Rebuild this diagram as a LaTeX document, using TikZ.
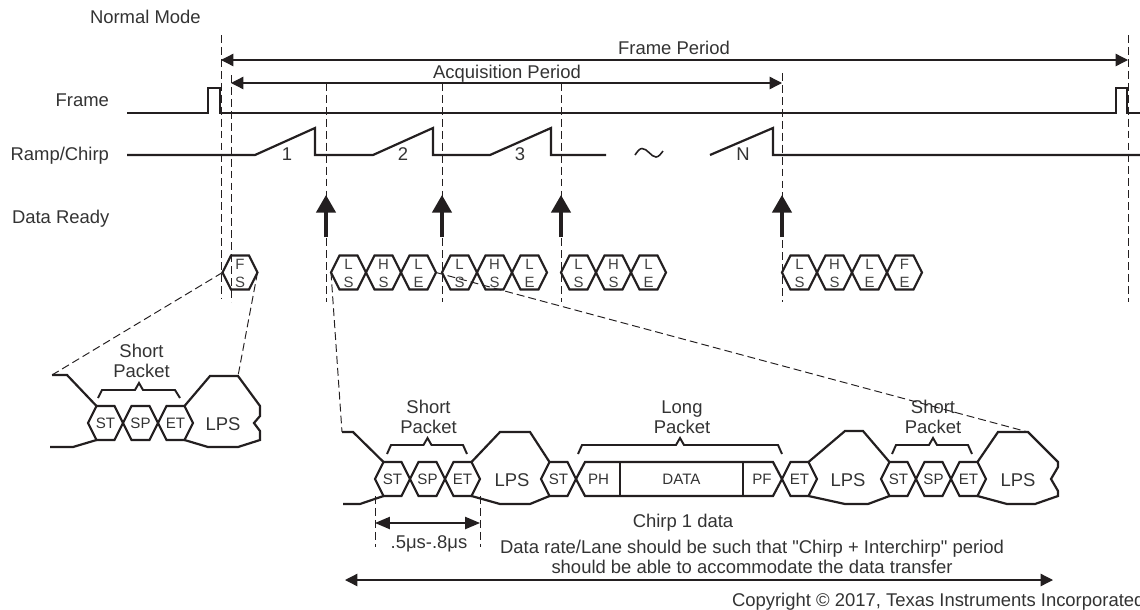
\documentclass[tikz,border=0pt]{standalone}
\usepackage{fontspec}
\setmainfont{Liberation Sans}
\usetikzlibrary{arrows.meta}

\definecolor{tiline}{HTML}{231F20}
\definecolor{titext}{HTML}{333333}

\tikzset{
  every node/.style={text=titext, inner sep=0pt, outer sep=0pt},
  lbl/.style={font=\fontsize{10.5}{11.5}\selectfont, text height=7.5pt, text depth=0pt},
  lbltwo/.style={font=\fontsize{10.5}{11.5}\selectfont, align=center},
  hexletter/.style={font=\fontsize{8.5}{9}\selectfont, text=black!75, text height=6.1pt, text depth=0pt},
  celltext/.style={font=\fontsize{8.6}{9}\selectfont, text height=6.2pt, text depth=0pt},
  sigline/.style={draw=tiline, line width=1.25pt, line join=miter},
  guide/.style={draw=tiline, dash pattern=on 4.5pt off 2.3pt, line width=0.55pt},
  span/.style={draw=tiline, line width=0.75pt,
               {Triangle[length=7pt,width=7pt]}-{Triangle[length=7pt,width=7pt]}},
  ready/.style={draw=tiline, line width=1.8pt, -{Triangle[length=10pt,width=11pt]}},
  bracket/.style={draw=tiline, line width=1.1pt, line join=miter},
  pics/twohex/.style 2 args={code={
      \draw[sigline] (-17.5,0) -- (-9,-17) -- (9,-17) -- (17.5,0)
                     -- (9,17) -- (-9,17) -- cycle;
      \coordinate (-w) at (-17.5,0);
      \coordinate (-e) at (17.5,0);
      \node[hexletter] (-up) at (0,-8) {#1};
      \node[hexletter] (-dn) at (0,9.5) {#2};}},
  pics/onehex/.style={code={
      \draw[sigline] (-17.5,0) -- (-9,-17) -- (9,-17) -- (17.5,0)
                     -- (9,17) -- (-9,17) -- cycle;
      \coordinate (-w) at (-17.5,0);
      \coordinate (-e) at (17.5,0);
      \node[celltext] (-t) at (0,0) {#1};}},
}

\begin{document}
\begin{tikzpicture}[x=0.02cm, y=-0.02cm]
\useasboundingbox (0,0) rectangle (1140,609);

% signal names
\node[lbl, anchor=west] (mode) at (90,17) {Normal Mode};
\node[lbl, anchor=east] (frame) at (109,100) {Frame};
\node[lbl, anchor=east] (ramp) at (109,154) {Ramp/Chirp};
\node[lbl, anchor=west] (ready) at (12,217) {Data Ready};

% dashed markers
\coordinate (fs1t) at (221,35);  \coordinate (fs1b) at (221,298);
\coordinate (fs2t) at (231,75);  \coordinate (fs2b) at (231,302);
\coordinate (c1t) at (326,83);   \coordinate (c1b) at (326,302);
\coordinate (c2t) at (442,83);   \coordinate (c2b) at (442,302);
\coordinate (c3t) at (561,83);   \coordinate (c3b) at (561,302);
\coordinate (cnt) at (782,73);   \coordinate (cnb) at (782,302);
\coordinate (fe1t) at (1128,35); \coordinate (fe1b) at (1128,302);
\draw[guide] (fs1t) -- (fs1b);
\draw[guide] (fs2t) -- (fs2b);
\draw[guide] (c1t) -- (c1b);
\draw[guide] (c2t) -- (c2b);
\draw[guide] (c3t) -- (c3b);
\draw[guide] (cnt) -- (cnb);
\draw[guide] (fe1t) -- (fe1b);

% periods
\coordinate (fpl) at (221,60);  \coordinate (fpr) at (1128,60);
\coordinate (apl) at (231,83);  \coordinate (apr) at (782,83);
\draw[span] (fpl) -- (fpr);
\draw[span] (apl) -- (apr);
\node[lbl] (fper) at (674,48) {Frame Period};
\node[lbl] (aper) at (507,72) {Acquisition Period};

% frame and ramp traces
\draw[sigline] (127,113) -- (208,113) -- (208,88) -- (220,88) -- (220,113)
  -- (1116,113) -- (1116,88) -- (1127,88) -- (1127,113) -- (1140,113);
\draw[sigline] (127,155) -- (255,155) -- (315,128) -- (315,155)
  -- (373,155) -- (433,128) -- (433,155)
  -- (490,155) -- (551,128) -- (551,155) -- (606,155);
\draw[sigline] (710,155) -- (773,128) -- (773,155) -- (1140,155);
\draw[draw=tiline, line width=0.9pt] (635,155) sin (642,148.5) cos (649,152.5)
  sin (656,157) cos (663,151);
\node[lbl] (n1) at (287,154) {1};
\node[lbl] (n2) at (403,154) {2};
\node[lbl] (n3) at (520,154) {3};
\node[lbl] (nn) at (743,154) {N};

% data ready
\coordinate (r1b) at (326,237); \coordinate (r1t) at (326,195);
\coordinate (r2b) at (442,237); \coordinate (r2t) at (442,195);
\coordinate (r3b) at (561,237); \coordinate (r3t) at (561,195);
\coordinate (rnb) at (782,237); \coordinate (rnt) at (782,195);
\draw[ready] (r1b) -- (r1t);
\draw[ready] (r2b) -- (r2t);
\draw[ready] (r3b) -- (r3t);
\draw[ready] (rnb) -- (rnt);

% packet row
\pic (fs) at (240,272.5) {twohex={F}{S}};
\pic (ls1) at (348.5,272.5) {twohex={L}{S}};
\pic (hs1) at (383.5,272.5) {twohex={H}{S}};
\pic (le1) at (418.5,272.5) {twohex={L}{E}};
\pic (ls2) at (459.5,272.5) {twohex={L}{S}};
\pic (hs2) at (494.5,272.5) {twohex={H}{S}};
\pic (le2) at (529.5,272.5) {twohex={L}{E}};
\pic (ls3) at (578.5,272.5) {twohex={L}{S}};
\pic (hs3) at (613.5,272.5) {twohex={H}{S}};
\pic (le3) at (648.5,272.5) {twohex={L}{E}};
\pic (lsn) at (799.5,272.5) {twohex={L}{S}};
\pic (hsn) at (834.5,272.5) {twohex={H}{S}};
\pic (len) at (869.5,272.5) {twohex={L}{E}};
\pic (fe) at (904.5,272.5) {twohex={F}{E}};

% frame start detail
\coordinate (fsin) at (52,375);
\coordinate (fslps) at (238,376);
\draw[sigline] (fsin) -- (67,375) -- (96.5,406);
\draw[sigline] (50,447) -- (73,447) -- (96.5,440);
\pic (fsst) at (105.5,423) {onehex={ST}};
\pic (fssp) at (140.5,423) {onehex={SP}};
\pic (fset) at (175.5,423) {onehex={ET}};
\draw[sigline] (184.5,406) -- (210,376) -- (fslps) -- (260,406) -- (260,416)
  -- (254,423) -- (260,431) -- (260,440) -- (238,447) -- (208,447) -- (184.5,440);
\node[lbl] (fslpst) at (223,424) {LPS};
\node[lbltwo] (fssh) at (141.5,361) {Short\\Packet};
\draw[bracket] (98,398) -- (102,390) -- (135,390) -- (139,383) -- (143,390)
  -- (175,390) -- (180,398);

% chirp 1 detail
\coordinate (chin) at (342,432);
\coordinate (chlps) at (1028,432);
\draw[sigline] (chin) -- (353,432) -- (383.5,462);
\draw[sigline] (343,504) -- (360,504) -- (383.5,496);
\pic (st1) at (392.5,479) {onehex={ST}};
\pic (sp1) at (427.5,479) {onehex={SP}};
\pic (et1) at (462.5,479) {onehex={ET}};
\draw[sigline] (471.5,462) -- (500,432) -- (530,432) -- (549.5,462);
\draw[sigline] (471.5,496) -- (500,504) -- (530,504) -- (549.5,496);
\node[lbl] (lps1) at (512,480) {LPS};
\pic (st2) at (558.5,479) {onehex={ST}};
\draw[sigline] (576,479) -- (585,462) -- (773,462) -- (782,479)
  -- (773,496) -- (585,496) -- cycle;
\draw[sigline] (620,462) -- (620,496);
\draw[sigline] (743,462) -- (743,496);
\node[celltext] (ph) at (598.5,479) {PH};
\node[celltext] (data) at (681.5,479) {DATA};
\node[celltext] (pf) at (762,479) {PF};
\pic (et2) at (799.5,479) {onehex={ET}};
\draw[sigline] (808.5,462) -- (845,431) -- (863,431) -- (889.5,462);
\draw[sigline] (808.5,496) -- (845,504) -- (868,504) -- (889.5,496);
\node[lbl] (lps2) at (848,480) {LPS};
\pic (st3) at (898.5,479) {onehex={ST}};
\pic (sp3) at (933.5,479) {onehex={SP}};
\pic (et3) at (968.5,479) {onehex={ET}};
\draw[sigline] (977.5,462) -- (998,432) -- (chlps) -- (1058,462) -- (1058,467)
  -- (1051,479) -- (1058,491) -- (1058,496) -- (1035,504) -- (1007,504) -- (977.5,496);
\node[lbl] (lps3) at (1018,480) {LPS};

\node[lbltwo] (sh1) at (428.5,417) {Short\\Packet};
\draw[bracket] (387,454) -- (391,445) -- (423.5,445) -- (427.5,438) -- (431.5,445)
  -- (463,445) -- (467,454);
\node[lbltwo] (lg) at (682,417) {Long\\Packet};
\draw[bracket] (578,454) -- (582,445) -- (676,445) -- (680,438) -- (684,445)
  -- (778,445) -- (782,454);
\node[lbltwo] (sh3) at (933,417) {Short\\Packet};
\draw[bracket] (892,454) -- (896,445) -- (929,445) -- (933,438) -- (937,445)
  -- (968,445) -- (972,454);

% zoom lines
\draw[guide] (fs-w) -- (fsin);
\draw[guide] (fs-e) -- (fslps);
\draw[guide] (ls1-w) -- (chin);
\draw[guide] (le1-e) -- (chlps);

% timing notes
\coordinate (dlt) at (375,496); \coordinate (dlb) at (375,547);
\coordinate (drt) at (480,496); \coordinate (drb) at (480,547);
\draw[guide] (dlt) -- (dlb);
\draw[guide] (drt) -- (drb);
\coordinate (dl) at (375,523); \coordinate (dr) at (480,523);
\draw[span, {Triangle[length=8.5pt,width=7pt]}-{Triangle[length=8.5pt,width=7pt]}] (dl) -- (dr);
\node[lbl] (dur) at (429,542) {.5μs-.8μs};
\node[lbl] (c1d) at (683,521) {Chirp 1 data};
\node[lbltwo] (note) at (752,557) {Data rate/Lane should be such that \textquotedbl Chirp + Interchirp\textquotedbl{} period\\should be able to accommodate the data transfer};
\coordinate (nl) at (345,580); \coordinate (nr) at (1053,580);
\draw[span] (nl) -- (nr);
\node[lbl, anchor=west] (copy) at (732,600) {Copyright © 2017, Texas Instruments Incorporated};
\end{tikzpicture}
\end{document}
